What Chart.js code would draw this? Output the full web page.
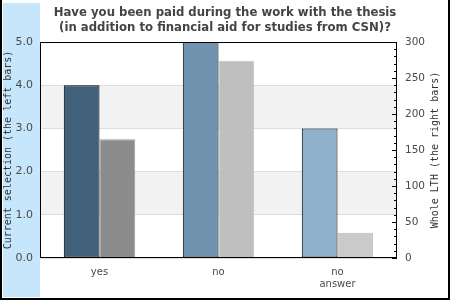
<!DOCTYPE html>
<html><head><meta charset="utf-8">
<script src="https://cdn.jsdelivr.net/npm/chart.js@4"></script>
<style>html,body{margin:0;padding:0;background:#fff}#wrap{width:450px;height:300px;position:relative}</style>
</head><body><div id="wrap"><canvas id="c" width="450" height="300"></canvas></div>
<script>
const categories = ['yes', 'no', ['no', 'answer']];
const currentSelection = [4.0, 5.0, 3.0];
const wholeLTH = [165, 274, 35];
const leftColors = ['#41607a', '#7293b0', '#8fb1cd'];
const rightColors = ['#8c8c8c', '#bfbfbf', '#cacaca'];
const rightBorders = ['#9a9a9a', '#c2c2c2', '#bdbdbd'];
const leftTickStep = 1;
const rightTickStep = 50;
const rightMinorStep = 10;
const titleLines = ['Have you been paid during the work with the thesis', '(in addition to financial aid for studies from CSN)?'];
const leftAxisTitle = 'Current selection (the left bars)';
const rightAxisTitle = 'Whole LTH (the right bars)';

const deco = {
  id: 'deco',
  beforeDraw(chart) {
    const ctx = chart.ctx, W = chart.width, H = chart.height;
    ctx.save();
    ctx.fillStyle = '#ffffff';
    ctx.fillRect(0, 0, W, H);
    ctx.fillStyle = '#c6e6fc';
    ctx.fillRect(3, 3, 37, H - 6);
    ctx.fillStyle = '#000';
    ctx.fillRect(0, 0, 2, H);
    ctx.fillRect(W - 2, 0, 2, H);
    ctx.fillRect(0, H - 2, W, 2);
    const y = chart.scales.y, a = chart.chartArea;
    ctx.fillStyle = '#f2f2f2';
    [[1, 2], [3, 4]].forEach(([lo, hi]) => {
      const p1 = y.getPixelForValue(hi), p2 = y.getPixelForValue(lo);
      ctx.fillRect(a.left, p1, a.right - a.left, p2 - p1);
    });
    ctx.restore();
  },
  afterDatasetsDraw(chart) {
    const ctx = chart.ctx, a = chart.chartArea, y2 = chart.scales.y2;
    ctx.save();
    ctx.strokeStyle = '#000';
    ctx.lineWidth = 1;
    ctx.strokeRect(a.left + 0.5, a.top + 0.5, a.right - a.left - 1, a.bottom - a.top - 1);
    ctx.beginPath();
    for (let v = y2.min; v <= y2.max; v += rightMinorStep) {
      const py = Math.round(y2.getPixelForValue(v)) + 0.5;
      const len = (v % rightTickStep === 0) ? 5 : 3;
      ctx.moveTo(a.right - len, py);
      ctx.lineTo(a.right, py);
    }
    ctx.stroke();
    ctx.restore();
  },
  afterDraw(chart) {
    const ctx = chart.ctx, a = chart.chartArea;
    ctx.save();
    ctx.font = '10px "DejaVu Sans Mono"';
    ctx.fillStyle = '#333';
    ctx.textAlign = 'center';
    ctx.textBaseline = 'middle';
    ctx.translate(435, (a.top + a.bottom) / 2);
    ctx.rotate(-Math.PI / 2);
    ctx.fillText(rightAxisTitle, 0, 0);
    ctx.restore();
  }
};

new Chart(document.getElementById('c'), {
  type: 'bar',
  data: {
    labels: categories,
    datasets: [
      { label: 'Current selection', data: currentSelection, yAxisID: 'y',
        backgroundColor: leftColors, borderColor: '#000', borderWidth: 1, borderSkipped: false,
        categoryPercentage: 0.6, barPercentage: 1.0 },
      { label: 'Whole LTH', data: wholeLTH, yAxisID: 'y2',
        backgroundColor: rightColors, borderColor: rightBorders, borderWidth: 1, borderSkipped: 'bottom',
        categoryPercentage: 0.6, barPercentage: 1.0 }
    ]
  },
  options: {
    responsive: false, animation: false,
    layout: { padding: 0 },
    plugins: {
      legend: { display: false }, tooltip: { enabled: false },
      title: { display: true, text: titleLines, color: '#444',
        font: { family: 'DejaVu Sans', size: 11.7, weight: 'bold', lineHeight: 1.24 },
        padding: { top: 6, bottom: 7 } }
    },
    scales: {
      x: { grid: { display: false, drawTicks: false }, border: { display: false },
        ticks: { color: '#4a4a4a', font: { family: 'DejaVu Sans', size: 10 }, padding: 8, maxRotation: 0, autoSkip: false },
        afterFit(s) { s.height = 42; } },
      y: { position: 'left', min: 0, max: 5,
        grid: { color: '#dddddd', drawTicks: false }, border: { display: false },
        ticks: { stepSize: leftTickStep, color: '#4a4a4a', font: { family: 'DejaVu Sans', size: 11 }, padding: 7,
          callback: v => v.toFixed(1) },
        title: { display: true, text: leftAxisTitle, color: '#333', font: { family: 'DejaVu Sans Mono', size: 10 }, padding: { top: 2, bottom: 0 } },
        afterFit(s) { s.width = 40; } },
      y2: { position: 'right', min: 0, max: 300,
        grid: { display: false, drawTicks: false }, border: { display: false },
        ticks: { stepSize: rightTickStep, color: '#4a4a4a', font: { family: 'DejaVu Sans', size: 10.5 }, padding: 8 },
        afterFit(s) { s.width = 53; } }
    }
  },
  plugins: [deco]
});
</script></body></html>
